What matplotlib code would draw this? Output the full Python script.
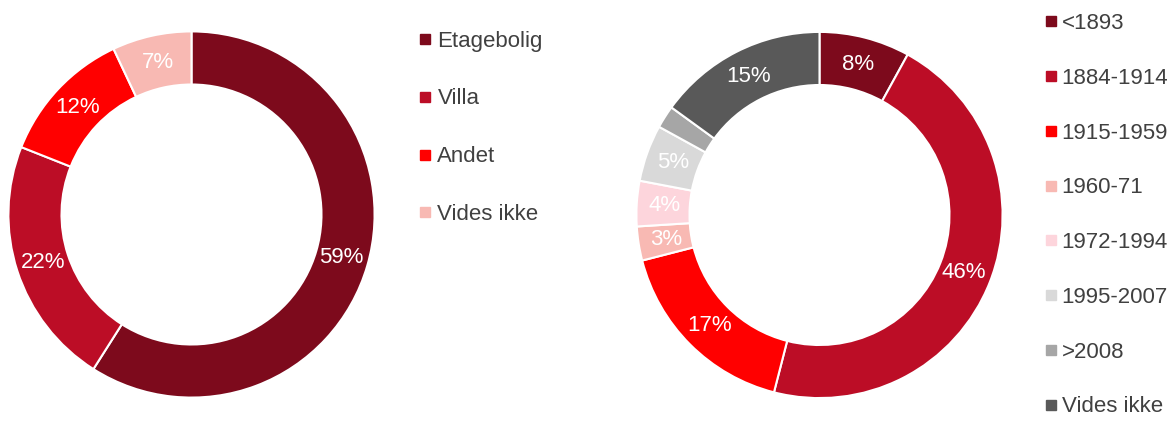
import matplotlib
matplotlib.use('Agg')
import matplotlib.pyplot as plt
from matplotlib.lines import Line2D

plt.rcParams['font.family'] = ['Liberation Sans', 'DejaVu Sans']

# left donut: housing type
type_labels = ['Etagebolig', 'Villa', 'Andet', 'Vides ikke']
type_values = [59, 22, 12, 7]
type_colors = ['#7D0A1C', '#BC0D26', '#FF0000', '#F8B9B3']

# right donut: construction period
period_labels = ['<1893', '1884-1914', '1915-1959', '1960-71',
                 '1972-1994', '1995-2007', '>2008', 'Vides ikke']
period_values = [8, 46, 17, 3, 4, 5, 2, 15]
period_colors = ['#7D0A1C', '#BC0D26', '#FF0000', '#F8B9B3',
                 '#FDD5DC', '#D9D9D9', '#A6A6A6', '#595959']

W, H = 1172, 421
FS = 16
TXT = '#404040'

fig = plt.figure(figsize=(W / 100, H / 100), dpi=100)


def donut(cx, cy, r, values, colors):
    ax = fig.add_axes([(cx - r) / W, (H - cy - r) / H, 2 * r / W, 2 * r / H])
    ax.pie(values, colors=colors, startangle=90, counterclock=False,
           radius=1, pctdistance=0.85,
           autopct=lambda p: f'{p:.0f}%' if p >= 2.5 else '',
           wedgeprops=dict(width=0.29, edgecolor='white', linewidth=1.5),
           textprops=dict(color='white', fontsize=FS))
    ax.set_xlim(-1.005, 1.005)
    ax.set_ylim(-1.005, 1.005)
    ax.set_aspect('equal')
    return ax


def legend(labels, colors, x, y, spacing, pad):
    handles = [Line2D([], [], marker='s', linestyle='none', markersize=6.5,
                      markerfacecolor=c, markeredgecolor=c) for c in colors]
    fig.legend(handles, labels, loc='upper left',
               bbox_to_anchor=(x / W, 1 - y / H), frameon=False,
               fontsize=FS, labelcolor=TXT, handlelength=0.5,
               handletextpad=pad, labelspacing=spacing, borderpad=0,
               borderaxespad=0)


donut(191.5, 214.5, 184, type_values, type_colors)
donut(819.5, 215, 184, period_values, period_colors)

legend(type_labels, type_colors, 419, 30.5, 1.66, 0.33)
legend(period_labels, period_colors, 1045, 13, 1.52, 0.25)

fig.savefig('out.png', dpi=100)
